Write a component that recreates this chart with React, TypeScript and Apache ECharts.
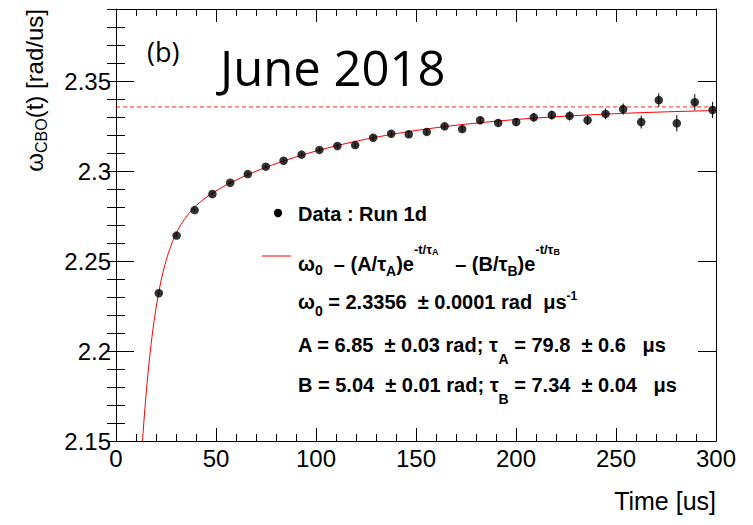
import React, { useEffect, useRef } from "react";
import * as echarts from "echarts";

// ---- data ----
const times = [
  21.4, 30.3, 39.3, 48.2, 57.1, 65.9, 74.9, 83.8, 92.8, 101.7, 110.7, 119.6,
  128.6, 137.6, 146.4, 155.4, 164.3, 173.1, 182.1, 191.1, 200.1, 208.9, 217.9,
  226.8, 235.8, 244.8, 253.6, 262.6, 271.4, 280.4, 289.4, 298.3,
];
const omega = [
  2.2321, 2.2641, 2.2783, 2.2872, 2.2935, 2.2983, 2.3024, 2.3057, 2.3091,
  2.3117, 2.3139, 2.3144, 2.3185, 2.3207, 2.3204, 2.3217, 2.3248, 2.3233,
  2.3282, 2.3267, 2.3272, 2.3298, 2.3311, 2.3306, 2.3282, 2.3317, 2.3344,
  2.3272, 2.3394, 2.3265, 2.3382, 2.3339,
];
const errors = [
  0.0006, 0.0006, 0.0007, 0.0007, 0.0008, 0.0008, 0.0009, 0.001, 0.001,
  0.0011, 0.0012, 0.0013, 0.0014, 0.0015, 0.0016, 0.0017, 0.0018, 0.0019,
  0.002, 0.0021, 0.0022, 0.0024, 0.0025, 0.0026, 0.0028, 0.003, 0.0031,
  0.0036, 0.0038, 0.0045, 0.0045, 0.0045,
];

// fit parameters (as printed on the chart)
const omega0 = 2.3356;
const ampA = 6.85;
const tauA = 79.8;
const ampB = 5.04;
const tauB = 7.34;
const fitRange = [12, 300];

const xRange = [0, 300];
const yRange = [2.15, 2.39];

const fitValue = (t: number) =>
  omega0 - (ampA / tauA) * Math.exp(-t / tauA) - (ampB / tauB) * Math.exp(-t / tauB);

const FONT = "'Liberation Sans', Arial, Helvetica, sans-serif";

function buildOption() {
  const fitData: number[][] = [];
  for (let t = fitRange[0]; t <= fitRange[1] + 1e-9; t += 0.5) {
    fitData.push([t, fitValue(t)]);
  }
  const points = times.map((t, i) => [t, omega[i]]);
  const bars = times.map((t, i) => [t, omega[i] - errors[i], omega[i] + errors[i]]);

  const baseX = {
    type: "value",
    min: xRange[0],
    max: xRange[1],
    interval: 50,
    splitLine: { show: false },
    axisLine: { show: true, onZero: false, lineStyle: { color: "#000", width: 1 } },
    axisTick: { show: true, inside: true, length: 13, lineStyle: { color: "#000", width: 1 } },
    minorTick: { show: true, splitNumber: 5, length: 7, lineStyle: { color: "#000", width: 1 } },
  };
  const baseY = {
    type: "value",
    min: yRange[0],
    max: yRange[1],
    splitLine: { show: false },
  };

  const sub = (d: number, size: number, lh: number) => ({
    fontSize: size,
    fontWeight: "bold",
    fontFamily: FONT,
    color: "#000",
    lineHeight: lh,
    padding: [2 * d, 0, 0, 0],
  });
  const sup = (u: number, size: number, lh: number) => ({
    fontSize: size,
    fontWeight: "bold",
    fontFamily: FONT,
    color: "#000",
    lineHeight: lh,
    padding: [0, 0, 2 * u, 0],
  });
  const legendLine = (y: number, text: string, rich: any) => ({
    type: "text",
    x: 298,
    y,
    style: {
      text,
      fontSize: 20,
      fontWeight: "bold",
      fontFamily: FONT,
      fill: "#000",
      align: "left",
      verticalAlign: "middle",
      lineHeight: 40,
      rich,
    },
  });

  return {
    animation: false,
    backgroundColor: "#fff",
    grid: { left: 116, right: 37, top: 9, bottom: 84, containLabel: false },
    xAxis: [
      {
        ...baseX,
        position: "bottom",
        axisLabel: { show: true, margin: 5, color: "#000", fontSize: 24, fontFamily: FONT },
      },
      { ...baseX, position: "top", axisLabel: { show: false } },
    ],
    yAxis: [
      {
        ...baseY,
        position: "left",
        interval: 0.05,
        axisLine: { show: true, onZero: false, lineStyle: { color: "#000", width: 1 } },
        axisTick: { show: true, inside: true, length: 18, lineStyle: { color: "#000" } },
        axisLabel: {
          show: true,
          margin: 5,
          color: "#000",
          fontSize: 24,
          fontFamily: FONT,
          showMaxLabel: false,
        },
      },
      {
        ...baseY,
        position: "left",
        interval: 0.01,
        axisLine: { show: false },
        axisTick: { show: true, inside: true, length: 9, lineStyle: { color: "#000" } },
        axisLabel: { show: false },
      },
      {
        ...baseY,
        position: "right",
        interval: 0.05,
        axisLine: { show: true, onZero: false, lineStyle: { color: "#000", width: 1 } },
        axisTick: { show: true, inside: true, length: 18, lineStyle: { color: "#000" } },
        axisLabel: { show: false },
      },
      {
        ...baseY,
        position: "right",
        interval: 0.01,
        axisLine: { show: false },
        axisTick: { show: true, inside: true, length: 9, lineStyle: { color: "#000" } },
        axisLabel: { show: false },
      },
    ],
    series: [
      {
        name: "omega0",
        type: "line",
        xAxisIndex: 0,
        yAxisIndex: 0,
        data: [
          [xRange[0], omega0],
          [xRange[1], omega0],
        ],
        showSymbol: false,
        symbol: "none",
        lineStyle: { color: "#ff0000", width: 1, type: [4, 3], opacity: 0.85 },
        silent: true,
        z: 1,
      },
      {
        name: "fit",
        type: "line",
        xAxisIndex: 0,
        yAxisIndex: 0,
        data: fitData,
        showSymbol: false,
        symbol: "none",
        clip: true,
        smooth: false,
        lineStyle: { color: "#ff0000", width: 1 },
        silent: true,
        z: 2,
      },
      {
        name: "errors",
        type: "custom",
        xAxisIndex: 0,
        yAxisIndex: 0,
        data: bars,
        clip: true,
        renderItem: (_params: any, api: any) => {
          const lo = api.coord([api.value(0), api.value(1)]);
          const hi = api.coord([api.value(0), api.value(2)]);
          return {
            type: "line",
            shape: { x1: lo[0], y1: lo[1], x2: hi[0], y2: hi[1] },
            style: { stroke: "#000", lineWidth: 1 },
          };
        },
        z: 3,
      },
      {
        name: "Data : Run 1d",
        type: "scatter",
        xAxisIndex: 0,
        yAxisIndex: 0,
        data: points,
        symbol: "circle",
        symbolSize: 8.5,
        itemStyle: { color: "#000" },
        z: 4,
      },
    ],
    graphic: [
      {
        type: "text",
        x: 147,
        y: 51,
        style: {
          text: "(b)",
          fontSize: 27,
          fontFamily: "'Open Sans', 'Noto Sans', sans-serif",
          fill: "#000",
          align: "left",
          verticalAlign: "middle",
        },
      },
      {
        type: "text",
        x: 220,
        y: 67,
        style: {
          text: "June 2018",
          fontSize: 49,
          fontFamily: "'Open Sans', 'Noto Sans', sans-serif",
          fill: "#000",
          align: "left",
          verticalAlign: "middle",
        },
      },
      {
        type: "text",
        x: 19,
        y: 9,
        rotation: Math.PI / 2,
        style: {
          text: "{m|ω}{s|CBO}{m|(t) [rad/us]}",
          align: "right",
          verticalAlign: "top",
          rich: {
            m: { fontSize: 24, fontFamily: FONT, color: "#000", lineHeight: 30 },
            s: {
              fontSize: 16,
              fontFamily: FONT,
              color: "#000",
              lineHeight: 30,
              padding: [14, 0, 0, 0],
            },
          },
        },
      },
      {
        type: "text",
        x: 716,
        y: 501,
        style: {
          text: "Time [us]",
          fontSize: 25,
          fontFamily: FONT,
          fill: "#000",
          align: "right",
          verticalAlign: "middle",
        },
      },
      // legend
      {
        type: "circle",
        shape: { cx: 278, cy: 213, r: 4.2 },
        style: { fill: "#000" },
      },
      {
        type: "line",
        shape: { x1: 262, y1: 256, x2: 291, y2: 256 },
        style: { stroke: "#ff0000", lineWidth: 1 },
      },
      legendLine(214, "Data : Run 1d", {}),
      legendLine(
        264,
        "ω{s0|0}  – (A/τ{s|A})e{p|-t/τ}{pp|A}   – (B/τ{s|B})e{p|-t/τ}{pp|B}",
        {
          s0: sub(6, 14, 40),
          s: sub(7, 14, 40),
          p: sup(15, 13, 40),
          pp: sup(12, 9, 40),
        }
      ),
      legendLine(302, "ω{s|0} = 2.3356  ± 0.0001 rad  μs{p|-1}", {
        s: sub(9, 14, 40),
        p: sup(6, 12, 40),
      }),
      legendLine(345, "A = 6.85  ± 0.03 rad; τ{s|A} = 79.8  ± 0.6   μs", {
        s: sub(14, 14, 40),
      }),
      legendLine(385, "B = 5.04  ± 0.01 rad; τ{s|B} = 7.34  ± 0.04   μs", {
        s: sub(14, 14, 40),
      }),
    ],
  };
}

export default function App() {
  const ref = useRef<HTMLDivElement>(null);
  useEffect(() => {
    if (!ref.current) return;
    const chart = echarts.init(ref.current, null, { renderer: "svg" });
    chart.setOption(buildOption() as any);
    return () => chart.dispose();
  }, []);
  return (
    <div
      ref={ref}
      style={{ position: "fixed", left: 0, top: 0, width: 753, height: 525, background: "#fff" }}
    />
  );
}
